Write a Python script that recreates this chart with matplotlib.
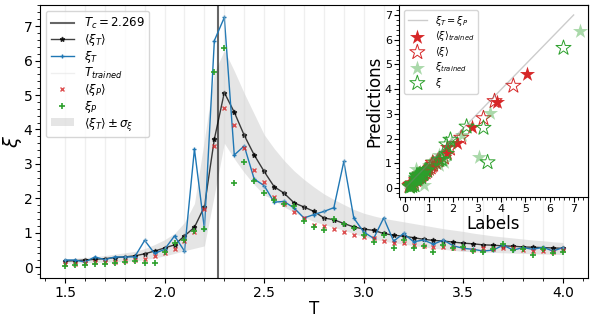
import numpy as np
import matplotlib.pyplot as plt

# temperatures
T = [1.5, 1.55, 1.6, 1.65, 1.7, 1.75, 1.8, 1.85, 1.9, 1.95,
     2.0, 2.05, 2.1, 2.15, 2.2, 2.25, 2.3, 2.35, 2.4, 2.45,
     2.5, 2.55, 2.6, 2.65, 2.7, 2.75, 2.8, 2.85, 2.9, 2.95,
     3.0, 3.05, 3.1, 3.15, 3.2, 3.25, 3.3, 3.35, 3.4, 3.45,
     3.5, 3.55, 3.6, 3.65, 3.7, 3.75, 3.8, 3.85, 3.9, 3.95, 4.0]
T_trained = [1.5, 1.6, 1.7, 1.8, 1.9, 2.0, 2.1, 2.2, 2.3, 2.4, 2.5, 2.6, 2.7,
             2.8, 2.9, 3.0, 3.1, 3.2, 3.3, 3.4, 3.5, 3.6, 3.7, 3.8, 3.9, 4.0]
Tc = 2.269

# <xi_T>
xi_T_mean = [0.18, 0.19, 0.21, 0.23, 0.25, 0.28, 0.30, 0.33, 0.39, 0.47,
             0.56, 0.65, 0.91, 1.16, 1.76, 3.72, 5.07, 4.50, 3.83, 3.26,
             2.78, 2.34, 2.15, 1.87, 1.75, 1.62, 1.43, 1.38, 1.27, 1.17,
             1.11, 1.07, 0.98, 0.93, 0.90, 0.86, 0.81, 0.78, 0.76, 0.73,
             0.70, 0.68, 0.65, 0.64, 0.62, 0.61, 0.59, 0.58, 0.57, 0.56, 0.55]
# xi_T
xi_T = [0.21, 0.21, 0.15, 0.30, 0.22, 0.30, 0.30, 0.30, 0.78, 0.40,
        0.52, 0.91, 0.47, 3.43, 1.12, 6.58, 7.25, 3.26, 3.52, 2.56,
        2.37, 1.89, 1.91, 1.72, 1.43, 1.53, 1.62, 1.73, 3.07, 1.43,
        1.02, 0.84, 1.43, 0.76, 0.98, 0.74, 0.79, 0.67, 0.79, 0.62,
        0.55, 0.52, 0.47, 0.50, 0.64, 0.50, 0.57, 0.52, 0.58, 0.47, 0.57]
# <xi_P>
xi_P_mean = [0.09, 0.09, 0.13, 0.14, 0.14, 0.16, 0.18, 0.20, 0.24, 0.33,
             0.40, 0.53, 0.76, 1.03, 1.68, 3.52, 4.63, 4.14, 3.47, 2.83,
             2.47, 2.04, 1.84, 1.60, 1.43, 1.24, 1.19, 1.12, 1.01, 0.95,
             0.88, 0.84, 0.77, 0.71, 0.71, 0.64, 0.61, 0.60, 0.58, 0.57,
             0.55, 0.50, 0.55, 0.52, 0.57, 0.55, 0.50, 0.47, 0.47, 0.45, 0.50]
# xi_P
xi_P = [0.05, 0.07, 0.07, 0.09, 0.09, 0.12, 0.14, 0.18, 0.12, 0.12,
        0.43, 0.71, 0.79, 1.05, 1.12, 5.67, 6.36, 2.44, 3.06, 2.49,
        2.16, 1.96, 1.84, 1.77, 1.33, 1.17, 1.08, 1.39, 1.27, 1.14,
        0.93, 0.72, 0.95, 0.57, 0.79, 0.57, 0.62, 0.45, 0.66, 0.55,
        0.60, 0.48, 0.45, 0.52, 0.67, 0.50, 0.52, 0.37, 0.52, 0.40, 0.43]
# <xi_T> +- sigma band edges
band_lo = [0.12, 0.12, 0.13, 0.14, 0.15, 0.16, 0.17, 0.19, 0.22, 0.27,
           0.33, 0.40, 0.48, 0.55, 0.62, 2.10, 3.60, 3.15, 2.75, 2.40,
           2.10, 1.95, 1.75, 1.60, 1.45, 1.33, 1.24, 1.16, 1.07, 0.98,
           0.88, 0.82, 0.76, 0.71, 0.67, 0.63, 0.59, 0.55, 0.52, 0.49,
           0.46, 0.45, 0.44, 0.43, 0.42, 0.41, 0.40, 0.39, 0.38, 0.38, 0.37]
band_hi = [0.24, 0.26, 0.28, 0.31, 0.34, 0.38, 0.42, 0.46, 0.54, 0.66,
           0.80, 0.98, 1.30, 1.85, 3.70, 5.65, 6.30, 5.70, 5.05, 4.45,
           3.85, 3.45, 3.10, 2.80, 2.55, 2.33, 2.13, 1.97, 1.82, 1.68,
           1.57, 1.49, 1.42, 1.37, 1.32, 1.27, 1.22, 1.17, 1.12, 1.08,
           1.04, 0.99, 0.95, 0.91, 0.88, 0.85, 0.82, 0.79, 0.77, 0.74, 0.72]

T_arr = np.array(T)
trained = np.isclose(np.round(T_arr * 10) / 10, T_arr)

fig = plt.figure(figsize=(5.98, 3.18), dpi=100)
ax = fig.add_axes([0.067, 0.126, 0.916, 0.858])

ax.axvline(Tc, color='k', alpha=0.6, lw=1.5, label=r'$T_c = 2.269$')
ax.plot(T, xi_T_mean, color='k', alpha=0.75, lw=1, marker='*', ms=3.5,
        label=r'$\langle \xi_T \rangle$')
ax.plot(T, xi_T, color='tab:blue', lw=1, marker='+', ms=3.5, label=r'$\xi_T$')
for i, t in enumerate(T_trained):
    ax.axvline(t, color='lightgray', alpha=0.35, lw=1,
               label=r'$T_{trained}$' if i == 0 else None)
ax.plot(T, xi_P_mean, ls='none', marker='x', ms=3.5, color='tab:red', alpha=0.8,
        label=r'$\langle \xi_P \rangle$')
ax.plot(T, xi_P, ls='none', marker='+', ms=4, mew=1.2, color='tab:green',
        label=r'$\xi_P$')
ax.fill_between(T, band_lo, band_hi, color='gray', alpha=0.2, lw=0,
                label=r'$\langle \xi_T \rangle \pm \sigma_\xi$')

ax.set_xlabel('T', fontsize=12, labelpad=0)
ax.set_ylabel(r'$\xi$', fontsize=14, labelpad=0)
ax.tick_params(labelsize=10, pad=2)
ax.minorticks_on()
ax.legend(loc='upper left', fontsize=8.5, labelspacing=0.08, handlelength=2.0)

# inset: predictions vs labels
ins = fig.add_axes([0.667, 0.38, 0.316, 0.604])
lab_mean = np.array(xi_T_mean)
pred_mean = np.array(xi_P_mean)
lab = np.array(xi_T)
pred = np.array(xi_P)
ins.plot([0, 7], [0, 7], color='gray', alpha=0.4, lw=1, label=r'$\xi_T = \xi_P$')
ins.scatter(lab_mean[trained], pred_mean[trained], marker='*', s=130,
            color='tab:red', lw=0, label=r'$\langle \xi \rangle_{trained}$')
ins.scatter(lab_mean[~trained], pred_mean[~trained], marker='*', s=130,
            facecolors='none', edgecolors='tab:red', lw=0.7,
            label=r'$\langle \xi \rangle$')
ins.scatter(lab[trained], pred[trained], marker='*', s=130,
            color='tab:green', alpha=0.4, lw=0, label=r'$\xi_{trained}$')
ins.scatter(lab[~trained], pred[~trained], marker='*', s=130,
            facecolors='none', edgecolors='tab:green', lw=0.7, label=r'$\xi$')
ins.set_xticks(range(8))
ins.set_yticks(range(8))
ins.set_xlim(-0.25, 7.59)
ins.set_ylim(-0.36, 7.4)
ins.minorticks_on()
ins.tick_params(labelsize=8, pad=1.5)
ins.set_xlabel('Labels', fontsize=12, labelpad=1)
ins.set_ylabel('Predictions', fontsize=12, labelpad=1)
ins.legend(loc='upper left', fontsize=7, labelspacing=0.15)

fig.savefig('out.png', dpi=100)
